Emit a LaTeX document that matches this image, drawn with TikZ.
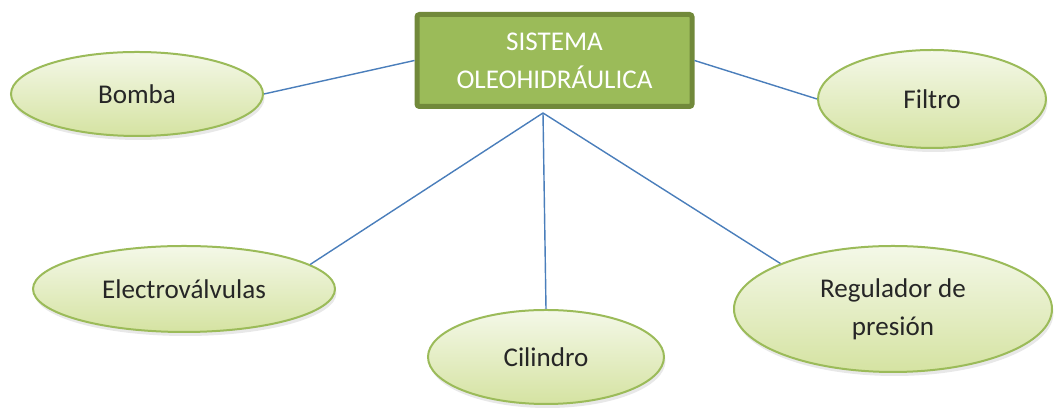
\documentclass[tikz,border=0pt]{standalone}
\usepackage{fontspec}
\setmainfont{Carlito}
\usepackage{tikz}
\usetikzlibrary{positioning}
\usetikzlibrary{shapes.geometric}
\usetikzlibrary{shadows}
\definecolor{boxfill}{HTML}{9BBB59}
\definecolor{boxline}{HTML}{71893A}
\definecolor{eliptop}{HTML}{F4F8E8}
\definecolor{elipbot}{HTML}{D5E3A2}
\definecolor{conncol}{HTML}{4A7EBB}
\definecolor{txtcol}{HTML}{262626}
\tikzstyle{sisbox} = [draw=boxline, fill=boxfill, line width=0.1cm, rounded corners=0.5mm, minimum width=5.5cm, minimum height=1.84cm, align=center, text=white, font=\fontsize{15.4}{21.5}\selectfont]
\tikzstyle{elip} = [ellipse, draw=boxfill, line width=0.4mm, top color=eliptop, bottom color=elipbot, align=center, text=txtcol, inner sep=0pt, font=\fontsize{15.4}{21.5}\selectfont, drop shadow={opacity=0.18, shadow xshift=0.03cm, shadow yshift=-0.08cm}]
\tikzstyle{conn} = [draw=conncol, line width=0.8pt]

\begin{document}
\begin{tikzpicture}[node distance=3cm]
                        \useasboundingbox (0,0) rectangle (21.24,8.18);
                        \node[sisbox] at (11.09,6.97) (sis) {SISTEMA\\OLEOHIDRÁULICA};
                        \node[elip, below of=sis, node distance=0.67cm, xshift=-8.35cm, minimum width=5.04cm, minimum height=1.68cm](bomba) {Bomba};
                        \node[elip, below of=sis, node distance=0.77cm, xshift=7.55cm, minimum width=4.56cm, minimum height=1.96cm](filtro) {Filtro};
                        \node[elip, below of=sis, node distance=4.57cm, xshift=-7.41cm, minimum width=6.04cm, minimum height=1.72cm](electro) {Electroválvulas};
                        \node[elip, below of=sis, node distance=5.93cm, xshift=-0.17cm, minimum width=4.72cm, minimum height=1.88cm](cilindro) {Cilindro};
                        \node[elip, below of=sis, node distance=4.97cm, xshift=6.77cm, minimum width=6.36cm, minimum height=2.52cm](regulador) {Regulador de\\presión};
                        \coordinate[below of=sis, node distance=1.05cm, xshift=-0.23cm](hub);
            
                        \draw[conn](bomba.east) -- (sis.west);
                        \draw[conn](sis.east) -- (filtro.west);
                        \draw[conn](hub) -- (electro.11);
                        \draw[conn](hub) -- (cilindro.north);
                        \draw[conn](hub) -- (regulador.158);
                    \end{tikzpicture}
\end{document}
